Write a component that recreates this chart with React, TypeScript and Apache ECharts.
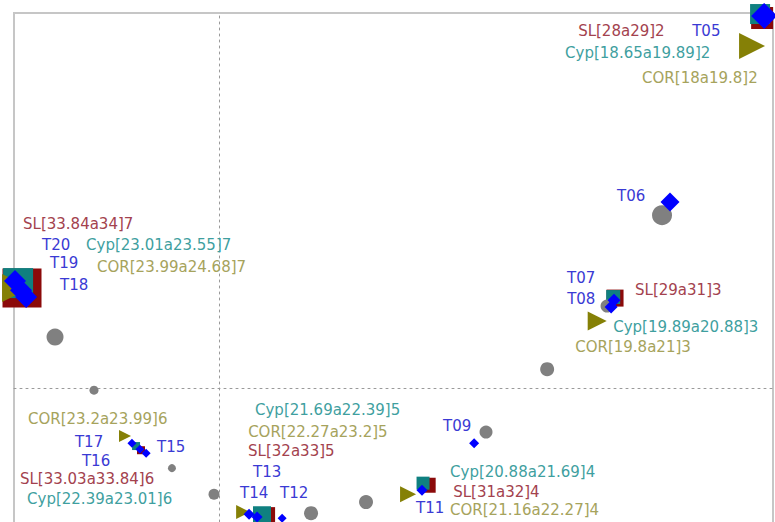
import React, { useEffect, useRef } from 'react';
import * as echarts from 'echarts';

// Treatments (blue diamonds)
const treatmentNames = ['T05', 'T06', 'T07', 'T08', 'T09', 'T11', 'T12', 'T13', 'T14', 'T15', 'T16', 'T17', 'T18', 'T19', 'T20'];
const treatmentX = [2.657, 2.198, 1.925, 1.911, 1.243, 0.989, 0.307, 0.185, 0.146, -0.356, -0.386, -0.425, -0.941, -0.966, -0.995];
const treatmentY = [1.786, 0.893, 0.422, 0.389, -0.264, -0.49, -0.624, -0.619, -0.605, -0.312, -0.293, -0.264, 0.437, 0.47, 0.514];
const treatmentMass = [26, 19, 13, 13, 10, 11, 9, 11, 11, 9, 9, 9, 22, 22, 22];

// SL classes (dark red squares)
const slNames = ['SL[28a29]2', 'SL[29a31]3', 'SL[31a32]4', 'SL[32a33]5', 'SL[33.03a33.84]6', 'SL[33.84a34]7'];
const slX = [2.647, 1.93, 1.019, 0.224, -0.381, -0.961];
const slY = [1.776, 0.432, -0.466, -0.619, -0.298, 0.48];
const slMass = [22, 17, 15, 20, 8, 39];

// Cyp classes (teal squares)
const cypNames = ['Cyp[18.65a19.89]2', 'Cyp[19.89a20.88]3', 'Cyp[20.88a21.69]4', 'Cyp[21.69a22.39]5', 'Cyp[22.39a23.01]6', 'Cyp[23.01a23.55]7'];
const cypX = [2.637, 1.921, 0.994, 0.209, -0.405, -0.98];
const cypY = [1.795, 0.437, -0.456, -0.61, -0.278, 0.504];
const cypMass = [20, 14, 13, 18, 8, 30];

// COR classes (olive triangles)
const corNames = ['COR[18a19.8]2', 'COR[19.8a21]3', 'COR[21.16a22.27]4', 'COR[22.27a23.2]5', 'COR[23.2a23.99]6', 'COR[23.99a24.68]7'];
const corX = [2.598, 1.843, 0.921, 0.117, -0.459, -0.99];
const corY = [1.642, 0.322, -0.509, -0.595, -0.23, 0.48];
const corMass = [26, 19, 16, 14, 12, 28];

// Supplementary points (grey circles)
const greyX = [-0.8, -0.61, -0.23, -0.025, 0.448, 0.716, 1.301, 1.599, 1.891, 2.159];
const greyY = [0.245, -0.01, -0.384, -0.509, -0.6, -0.547, -0.211, 0.091, 0.394, 0.83];
const greyMass = [17, 9, 8, 11, 14, 14, 13, 14, 13, 20];

// Label offsets (layout, pixels)
const treatmentLabelOffsets = [[-72, 15], [-53, -6], [-47, -22], [-44, -8], [-31, -17], [-6, 18], [-2, -25], [-4, -45], [-9, -21], [11, -6], [-58, 12], [-57, -1], [34, -12], [29, -27], [27, -36]];
const slLabelOffsets = [[-184, 13], [20, -8], [25, 7], [-17, -66], [-121, 29], [1, -64]];
const cypLabelOffsets = [[-195, 39], [0, 30], [27, -11], [-7, -105], [-109, 53], [68, -38]];
const corLabelOffsets = [[-110, 32], [-22, 26], [42, 16], [5, -80], [-97, -17], [81, -21]];

const FONT = 'DejaVu Sans';

function build(names: string[], xs: number[], ys: number[], sizes: number[], offs: number[][]) {
  return names.map((n, i) => ({
    name: n,
    value: [xs[i], ys[i]],
    symbolSize: sizes[i],
    label: { offset: offs[i] },
  }));
}

function labelStyle(color: string) {
  return {
    show: true,
    formatter: '{b}',
    position: 'inside',
    align: 'left',
    verticalAlign: 'middle',
    color,
    fontSize: 15,
    fontFamily: FONT,
  };
}

export default function App() {
  const ref = useRef<HTMLDivElement>(null);
  useEffect(() => {
    if (!ref.current) return;
    const chart = echarts.init(ref.current, null, { renderer: 'svg' });
    const axisCommon = {
      type: 'value',
      axisLine: { show: true, onZero: true, lineStyle: { color: '#9a9a9a', width: 1, type: [2, 4] } },
      axisTick: { show: false },
      axisLabel: { show: false },
      splitLine: { show: false },
    };
    chart.setOption({
      animation: false,
      backgroundColor: '#ffffff',
      grid: { left: 14, top: 13, width: 759, height: 521, show: true, borderColor: '#c6c6c6', borderWidth: 2 },
      xAxis: { ...axisCommon, min: -1, max: 2.7 },
      yAxis: { ...axisCommon, min: -0.7, max: 1.8 },
      series: [
        {
          type: 'scatter',
          name: 'SL',
          clip: false,
          symbol: 'rect',
          itemStyle: { color: '#8b0a0a', opacity: 1 },
          label: labelStyle('#a3424e'),
          data: build(slNames, slX, slY, slMass, slLabelOffsets),
          z: 2,
        },
        {
          type: 'scatter',
          name: 'Cyp',
          clip: false,
          symbol: 'rect',
          itemStyle: { color: '#0f8080', opacity: 1 },
          label: labelStyle('#3f9f9f'),
          data: build(cypNames, cypX, cypY, cypMass, cypLabelOffsets),
          z: 3,
        },
        {
          type: 'scatter',
          name: 'COR',
          clip: false,
          symbol: 'triangle',
          symbolRotate: -90,
          itemStyle: { color: '#858006', opacity: 1 },
          label: labelStyle('#a6a35c'),
          data: build(corNames, corX, corY, corMass, corLabelOffsets),
          z: 4,
        },
        {
          type: 'scatter',
          name: 'sup',
          clip: false,
          symbol: 'circle',
          itemStyle: { color: '#808080', opacity: 1 },
          data: greyX.map((x, i) => ({ value: [x, greyY[i]], symbolSize: greyMass[i] })),
          z: 5,
        },
        {
          type: 'scatter',
          name: 'T',
          clip: false,
          symbol: 'diamond',
          itemStyle: { color: '#0000ff', opacity: 1 },
          label: labelStyle('#3a3ad4'),
          data: build(treatmentNames, treatmentX, treatmentY, treatmentMass, treatmentLabelOffsets),
          z: 6,
        },
      ],
    });
    return () => chart.dispose();
  }, []);
  return <div ref={ref} style={{ position: 'fixed', left: 0, top: 0, width: 775, height: 545 }} />;
}
